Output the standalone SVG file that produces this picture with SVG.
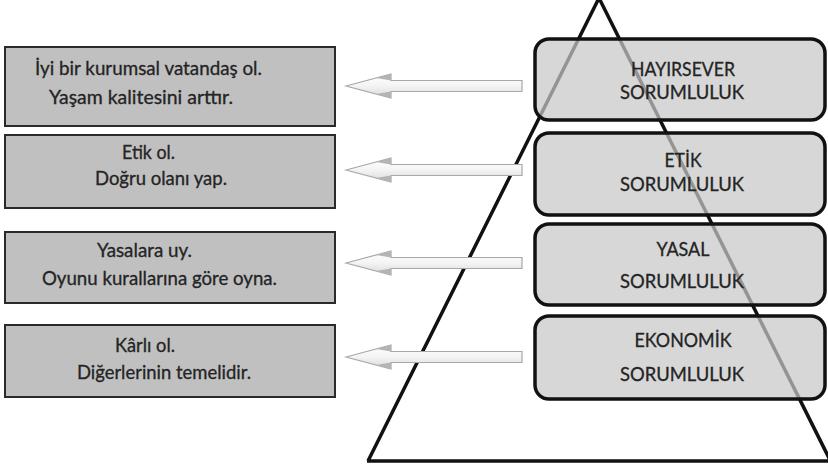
<svg xmlns="http://www.w3.org/2000/svg" width="828" height="471" viewBox="0 0 828 471">
  <style>
    .txt { font-family: Lato, "Open Sans", "Liberation Sans", sans-serif; fill: #242424; stroke: #242424; stroke-width: 0.3; }
    .lbl { font-size: 18.5px; }
    .lvl { font-size: 18.5px; text-anchor: middle; }
    .goal { fill: #c0c0c0; stroke: #2a2a2a; stroke-width: 2; }
    .level { fill: #c8c8c8; fill-opacity: 0.72; stroke: #111; stroke-width: 3.5; }
    .arrow { fill: url(#arrowFill); stroke: #a8a8a8; stroke-width: 1.2; }
    .barb { fill: #b4b4b4; }
  </style>
  <defs>
    <linearGradient id="arrowFill" x1="0" y1="0" x2="0" y2="1">
      <stop offset="0" stop-color="#ffffff"/>
      <stop offset="0.5" stop-color="#f4f4f4"/>
      <stop offset="1" stop-color="#d8d8d8"/>
    </linearGradient>
    <!-- left-pointing block arrow, tip at origin -->
    <path id="blockArrow" d="M0,0 L45,-12 L45,-5.5 L176,-5.5 L176,5.5 L45,5.5 L45,12 Z"/>
    <!-- shaded back corners of the arrowhead -->
    <path id="arrowBarbs" d="M30,-8 L45,-12 L45,-5.5 Z M30,8 L45,12 L45,5.5 Z"/>
  </defs>

  <rect width="828" height="471" fill="#ffffff"/>

  <!-- pyramid outline -->
  <g id="pyramid">
    <path d="M368,461 L599,-2 L834,468 M367,461 L834,461" fill="none" stroke="#111" stroke-width="3.5" stroke-linejoin="miter"/>
  </g>

  <!-- pyramid levels -->
  <g id="level-hayirsever">
    <rect class="level" x="535" y="39" width="290" height="81" rx="14"/>
    <text class="txt lvl" x="683" y="76" textLength="104" lengthAdjust="spacingAndGlyphs">HAYIRSEVER</text>
    <text class="txt lvl" x="682" y="99" textLength="124" lengthAdjust="spacingAndGlyphs">SORUMLULUK</text>
  </g>
  <g id="level-etik">
    <rect class="level" x="535" y="133" width="290" height="82" rx="14"/>
    <text class="txt lvl" x="683" y="167" textLength="37" lengthAdjust="spacingAndGlyphs">ETİK</text>
    <text class="txt lvl" x="682" y="191" textLength="124" lengthAdjust="spacingAndGlyphs">SORUMLULUK</text>
  </g>
  <g id="level-yasal">
    <rect class="level" x="535" y="224" width="290" height="81" rx="14"/>
    <text class="txt lvl" x="683" y="256" textLength="53" lengthAdjust="spacingAndGlyphs">YASAL</text>
    <text class="txt lvl" x="682" y="288" textLength="124" lengthAdjust="spacingAndGlyphs">SORUMLULUK</text>
  </g>
  <g id="level-ekonomik">
    <rect class="level" x="535" y="316" width="290" height="83" rx="14"/>
    <text class="txt lvl" x="683" y="347" textLength="97" lengthAdjust="spacingAndGlyphs">EKONOMİK</text>
    <text class="txt lvl" x="682" y="381" textLength="124" lengthAdjust="spacingAndGlyphs">SORUMLULUK</text>
  </g>

  <!-- arrows from each level to its goal -->
  <g id="connectors">
    <use href="#blockArrow" class="arrow" x="346" y="86"/>
    <use href="#arrowBarbs" class="barb" x="346" y="86"/>
    <use href="#blockArrow" class="arrow" x="346" y="170"/>
    <use href="#arrowBarbs" class="barb" x="346" y="170"/>
    <use href="#blockArrow" class="arrow" x="346" y="263"/>
    <use href="#arrowBarbs" class="barb" x="346" y="263"/>
    <use href="#blockArrow" class="arrow" x="346" y="357"/>
    <use href="#arrowBarbs" class="barb" x="346" y="357"/>
  </g>

  <!-- goal boxes -->
  <g id="goal-hayirsever">
    <rect class="goal" x="5" y="47" width="330" height="79"/>
    <text class="txt lbl" x="35" y="75" textLength="227" lengthAdjust="spacingAndGlyphs">İyi bir kurumsal vatandaş ol.</text>
    <text class="txt lbl" x="49" y="104" textLength="184" lengthAdjust="spacingAndGlyphs">Yaşam kalitesini arttır.</text>
  </g>
  <g id="goal-etik">
    <rect class="goal" x="5" y="135" width="330" height="73"/>
    <text class="txt lbl" x="122" y="159" textLength="53" lengthAdjust="spacingAndGlyphs">Etik ol.</text>
    <text class="txt lbl" x="95" y="185" textLength="132" lengthAdjust="spacingAndGlyphs">Doğru olanı yap.</text>
  </g>
  <g id="goal-yasal">
    <rect class="goal" x="5" y="232" width="330" height="71"/>
    <text class="txt lbl" x="97" y="257" textLength="95" lengthAdjust="spacingAndGlyphs">Yasalara uy.</text>
    <text class="txt lbl" x="42" y="285" textLength="235" lengthAdjust="spacingAndGlyphs">Oyunu kurallarına göre oyna.</text>
  </g>
  <g id="goal-ekonomik">
    <rect class="goal" x="5" y="325" width="330" height="72"/>
    <text class="txt lbl" x="115" y="352" textLength="60" lengthAdjust="spacingAndGlyphs">Kârlı ol.</text>
    <text class="txt lbl" x="77" y="379" textLength="174" lengthAdjust="spacingAndGlyphs">Diğerlerinin temelidir.</text>
  </g>
</svg>
